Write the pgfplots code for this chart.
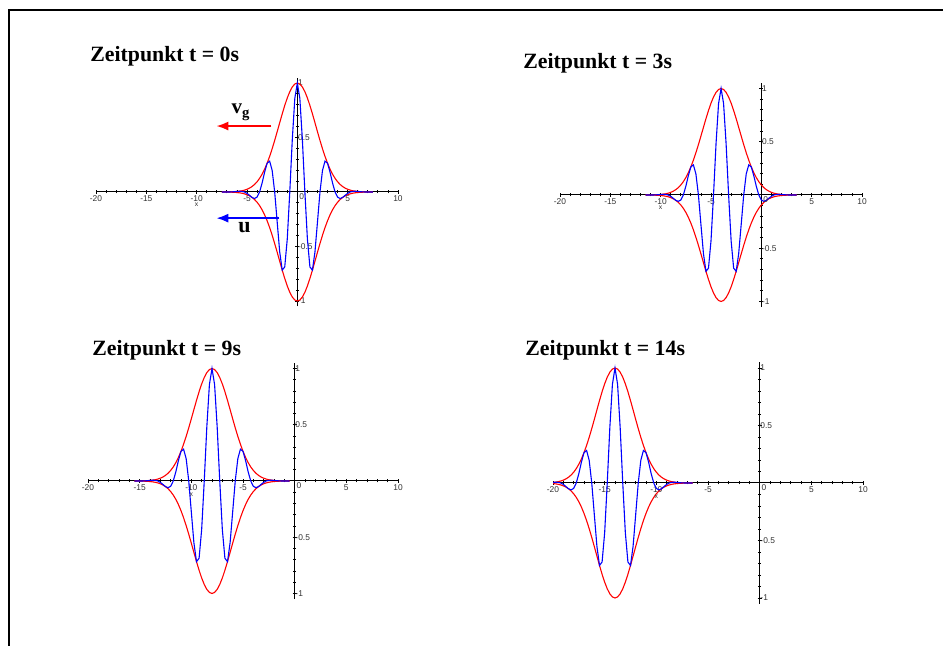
\documentclass[border=0pt]{standalone}
\usepackage{pgfplots}
\pgfplotsset{compat=1.18}
\usepackage{pgfplotstable}
\usepackage{fontspec}
\setmainfont{Liberation Serif}
\newfontfamily\ticksans{Liberation Sans}
\usetikzlibrary{arrows.meta}

% wave packet, u = x - centre of the packet
\pgfplotstableread{
u up lo wave
-7.5 0.00024 -0.00024 -0.00024
-7.25 0.00042 -0.00042 -0.00036
-7 0.00071 -0.00071 -0.00036
-6.75 0.00118 -0.00118 0
-6.5 0.00193 -0.00193 0.00097
-6.25 0.00309 -0.00309 0.00268
-6 0.00487 -0.00487 0.00487
-5.75 0.00752 -0.00752 0.00651
-5.5 0.01139 -0.01139 0.00570
-5.25 0.01695 -0.01695 0
-5 0.02477 -0.02477 -0.01239
-4.75 0.03552 -0.03552 -0.03076
-4.5 0.05002 -0.05002 -0.05002
-4.25 0.06912 -0.06912 -0.05986
-4 0.09378 -0.09378 -0.04689
-3.75 0.12490 -0.12490 0
-3.5 0.16331 -0.16331 0.08166
-3.25 0.20961 -0.20961 0.18153
-3 0.26412 -0.26412 0.26412
-2.75 0.32671 -0.32671 0.28294
-2.5 0.39670 -0.39670 0.19835
-2.25 0.47289 -0.47289 0
-2 0.55338 -0.55338 -0.27669
-1.75 0.63570 -0.63570 -0.55054
-1.5 0.71690 -0.71690 -0.71690
-1.25 0.79364 -0.79364 -0.68731
-1 0.86249 -0.86249 -0.43125
-0.75 0.92016 -0.92016 0
-0.5 0.96369 -0.96369 0.48185
-0.25 0.99080 -0.99080 0.85806
0 1.00000 -1.00000 1.00000
0.25 0.99080 -0.99080 0.85806
0.5 0.96369 -0.96369 0.48185
0.75 0.92016 -0.92016 0
1 0.86249 -0.86249 -0.43125
1.25 0.79364 -0.79364 -0.68731
1.5 0.71690 -0.71690 -0.71690
1.75 0.63570 -0.63570 -0.55054
2 0.55338 -0.55338 -0.27669
2.25 0.47289 -0.47289 0
2.5 0.39670 -0.39670 0.19835
2.75 0.32671 -0.32671 0.28294
3 0.26412 -0.26412 0.26412
3.25 0.20961 -0.20961 0.18153
3.5 0.16331 -0.16331 0.08166
3.75 0.12490 -0.12490 0
4 0.09378 -0.09378 -0.04689
4.25 0.06912 -0.06912 -0.05986
4.5 0.05002 -0.05002 -0.05002
4.75 0.03552 -0.03552 -0.03076
5 0.02477 -0.02477 -0.01239
5.25 0.01695 -0.01695 0
5.5 0.01139 -0.01139 0.00570
5.75 0.00752 -0.00752 0.00651
6 0.00487 -0.00487 0.00487
6.25 0.00309 -0.00309 0.00268
6.5 0.00193 -0.00193 0.00097
6.75 0.00118 -0.00118 0
7 0.00071 -0.00071 -0.00036
7.25 0.00042 -0.00042 -0.00036
7.5 0.00024 -0.00024 -0.00024
}\pulse

\pgfplotsset{
  panel/.style={
    scale only axis,
    anchor=south west,
    axis lines=middle,
    axis line style={-, black, line width=0.5pt},
    xmin=-20, xmax=10, ymin=-1.05, ymax=1.05,
    xtick={-20,-15,-10,-5,5,10},
    xticklabels={-20,-15,-10,-5,5,10},
    minor xtick={-19,-18,-17,-16,-14,-13,-12,-11,-9,-8,-7,-6,-4,-3,-2,-1,1,2,3,4,6,7,8,9},
    ytick={-1,-0.5,0.5,1},
    yticklabels={-1,-0.5,0.5,1},
    minor ytick={-0.9,-0.8,-0.7,-0.6,-0.4,-0.3,-0.2,-0.1,0.1,0.2,0.3,0.4,0.6,0.7,0.8,0.9},
    tick align=center,
    tick style={black, line width=0.4pt},
    major tick length=2pt, minor tick length=1.5pt,
    tick label style={font=\ticksans\fontsize{4.2}{5}\selectfont, text=black!80},
    xticklabel style={anchor=north, inner sep=0.8pt},
    yticklabel style={anchor=west, inner sep=0.8pt, xshift=0.4pt},
  },
  env/.style={red, line width=0.55pt},
  carrier/.style={blue, line width=0.55pt},
}

\newcommand{\zeit}[1]{{\fontsize{10.9}{13}\selectfont\bfseries Zeitpunkt t = #1s}}
\newcommand{\axmarks}{%
  \node[font=\ticksans\fontsize{4.2}{5}\selectfont, text=black!80, anchor=north west, inner sep=0.8pt] at (axis cs:0,0) {0};
  \node[font=\ticksans\fontsize{3.4}{4}\selectfont, text=black!80] at (axis cs:-10,-0.12) {x};
}

\begin{document}
\begin{tikzpicture}
\path[use as bounding box] (0,0) rectangle (471.5pt,323pt);
\draw[line width=1pt] (4.5pt,0) -- (4.5pt,318pt) -- (471.5pt,318pt);

% t = 0
\begin{axis}[panel, at={(48pt,169.775pt)}, width=151pt, height=114.45pt]
\addplot[env] table[x expr=\thisrow{u}+0, y=up] {\pulse};
\addplot[env] table[x expr=\thisrow{u}+0, y=lo] {\pulse};
\addplot[carrier] table[x expr=\thisrow{u}+0, y=wave] {\pulse};
\axmarks
\draw[red, line width=1pt, -{Latex[length=6pt,width=4.6pt]}] (axis cs:-2.58,0.605) -- (axis cs:-8.04,0.605);
\draw[blue, line width=1pt, -{Latex[length=6pt,width=4.6pt]}] (axis cs:-1.79,-0.24) -- (axis cs:-8.04,-0.24);
\node[font=\fontsize{10.5}{12}\selectfont\bfseries] at (axis cs:-5.6,0.73) {v\textsubscript{g}};
\node[font=\fontsize{11}{12}\selectfont\bfseries] at (axis cs:-5.26,-0.33) {u};
\end{axis}

% t = 3
\begin{axis}[panel, at={(280pt,169.6pt)}, width=151pt, height=111.8pt]
\addplot[env] table[x expr=\thisrow{u}-4, y=up] {\pulse};
\addplot[env] table[x expr=\thisrow{u}-4, y=lo] {\pulse};
\addplot[carrier] table[x expr=\thisrow{u}-4, y=wave] {\pulse};
\axmarks
\end{axis}

% t = 9
\begin{axis}[panel, at={(44pt,23.45pt)}, width=155pt, height=118.1pt]
\addplot[env] table[x expr=\thisrow{u}-8, y=up] {\pulse};
\addplot[env] table[x expr=\thisrow{u}-8, y=lo] {\pulse};
\addplot[carrier] table[x expr=\thisrow{u}-8, y=wave] {\pulse};
\axmarks
\end{axis}

% t = 14
\begin{axis}[panel, at={(276.5pt,21.125pt)}, width=155pt, height=120.75pt]
\addplot[env] table[x expr=\thisrow{u}-14, y=up] {\pulse};
\addplot[env] table[x expr=\thisrow{u}-14, y=lo] {\pulse};
\addplot[carrier] table[x expr=\thisrow{u}-14, y=wave] {\pulse};
\axmarks
\end{axis}

\node[anchor=base west, inner sep=0] at (45pt,292pt) {\zeit{0}};
\node[anchor=base west, inner sep=0] at (261.5pt,288.5pt) {\zeit{3}};
\node[anchor=base west, inner sep=0] at (46pt,145pt) {\zeit{9}};
\node[anchor=base west, inner sep=0] at (262.5pt,145pt) {\zeit{14}};
\end{tikzpicture}
\end{document}
